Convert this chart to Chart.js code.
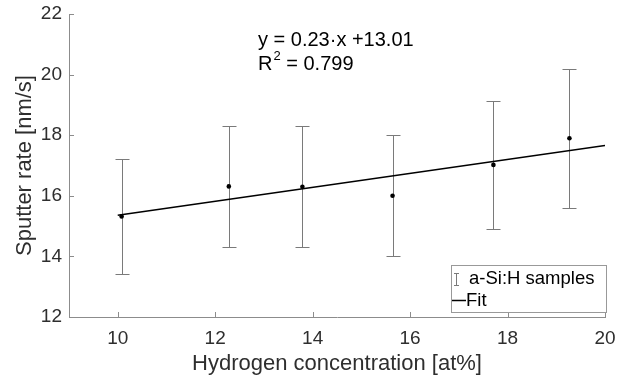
<!DOCTYPE html>
<html>
<head>
<meta charset="utf-8">
<script src="https://cdn.jsdelivr.net/npm/chart.js@4/dist/chart.umd.min.js"></script>
<style>
html,body{margin:0;padding:0;background:#fff}
#wrap{width:619px;height:378px}
</style>
</head>
<body>
<div id="wrap"><canvas id="c" width="619" height="378"></canvas></div>
<script>
const hydrogen=[10.08,12.28,13.79,15.64,17.71,19.27];
const sputterRate=[15.32,16.31,16.30,16.00,17.02,17.90];
const rateError=[1.90,2.00,2.00,2.00,2.10,2.30];
const fitX=[10,20];
const fitY=[15.36,17.66];
const xTicks=[10,12,14,16,18,20];
const yTicks=[12,14,16,18,20,22];
const eqLine='y = 0.23\u00b7x +13.01';
const r2Value=' = 0.799';

const FONT='"Liberation Sans", Arial, Helvetica, sans-serif';
const AXIS_GRAY='#8c8c8c';
const TEXT_DARK='#2e2e2e';

// MATLAB style ticks point into the plot
const innerTicks={
  id:'innerTicks',
  afterDraw(chart){
    const {ctx,chartArea,scales:{x,y}}=chart;
    ctx.save();
    ctx.strokeStyle=AXIS_GRAY;
    ctx.lineWidth=1;
    ctx.beginPath();
    xTicks.forEach(v=>{
      const px=Math.round(x.getPixelForValue(v))+0.5;
      ctx.moveTo(px,chartArea.bottom);
      ctx.lineTo(px,chartArea.bottom-5);
    });
    yTicks.forEach(v=>{
      const py=Math.round(y.getPixelForValue(v))+0.5;
      ctx.moveTo(chartArea.left,py);
      ctx.lineTo(chartArea.left+5,py);
    });
    ctx.stroke();
    ctx.restore();
  }
};

const errorBars={
  id:'errorBars',
  beforeDatasetsDraw(chart){
    const {ctx,scales:{x,y}}=chart;
    ctx.save();
    ctx.strokeStyle='#7a7a7a';
    ctx.lineWidth=1;
    ctx.beginPath();
    hydrogen.forEach((h,i)=>{
      const px=Math.round(x.getPixelForValue(h))+0.5;
      const top=Math.round(y.getPixelForValue(sputterRate[i]+rateError[i]))+0.5;
      const bot=Math.round(y.getPixelForValue(sputterRate[i]-rateError[i]))+0.5;
      ctx.moveTo(px,top);ctx.lineTo(px,bot);
      ctx.moveTo(px-7,top);ctx.lineTo(px+7,top);
      ctx.moveTo(px-7,bot);ctx.lineTo(px+7,bot);
    });
    ctx.stroke();
    ctx.restore();
  }
};

const annotations={
  id:'annotations',
  afterDraw(chart){
    const {ctx}=chart;
    ctx.save();
    ctx.fillStyle='#000';
    ctx.textBaseline='middle';
    ctx.textAlign='left';
    ctx.font='20px '+FONT;
    ctx.fillText(eqLine,258,40);
    ctx.fillText('R',258,64);
    let w=ctx.measureText('R').width;
    ctx.font='13px '+FONT;
    ctx.fillText('2',258+w+1,56);
    const w2=ctx.measureText('2').width;
    ctx.font='20px '+FONT;
    ctx.fillText(r2Value,258+w+w2+1,64);

    // legend box
    ctx.fillStyle='#fff';
    ctx.fillRect(451,265,155,47);
    ctx.strokeStyle='#999';
    ctx.lineWidth=1;
    ctx.strokeRect(451.5,265.5,155,47);
    ctx.strokeStyle='#7a7a7a';
    ctx.beginPath();
    ctx.moveTo(456.5,273);ctx.lineTo(456.5,286);
    ctx.moveTo(454,273.5);ctx.lineTo(459,273.5);
    ctx.moveTo(454,285.5);ctx.lineTo(459,285.5);
    ctx.stroke();
    ctx.strokeStyle='#000';
    ctx.lineWidth=1.5;
    ctx.beginPath();
    ctx.moveTo(452,300.5);ctx.lineTo(466,300.5);
    ctx.stroke();
    ctx.fillStyle='#000';
    ctx.font='18.5px '+FONT;
    ctx.fillText('a-Si:H samples',469,279);
    ctx.fillText('Fit',466,301);
    ctx.restore();
  }
};

new Chart(document.getElementById('c').getContext('2d'),{
  type:'scatter',
  data:{
    datasets:[
      {
        label:'a-Si:H samples',
        data:hydrogen.map((h,i)=>({x:h,y:sputterRate[i]})),
        backgroundColor:'#000',
        borderColor:'#000',
        pointRadius:2.3,
        pointBorderWidth:0,
        showLine:false,
        order:1
      },
      {
        label:'Fit',
        data:fitX.map((v,i)=>({x:v,y:fitY[i]})),
        borderColor:'#000',
        borderWidth:1.6,
        pointRadius:0,
        showLine:true,
        fill:false,
        order:2
      }
    ]
  },
  options:{
    responsive:false,
    animation:false,
    devicePixelRatio:1,
    layout:{padding:{top:14,right:14,left:0,bottom:0}},
    plugins:{legend:{display:false},tooltip:{enabled:false}},
    scales:{
      x:{
        type:'linear',
        min:9,max:20,
        afterBuildTicks(s){s.ticks=xTicks.map(v=>({value:v}));},
        afterFit(s){s.height=61;s.paddingLeft=0;s.paddingRight=0;},
        grid:{drawOnChartArea:false,drawTicks:false},
        border:{color:AXIS_GRAY,width:1},
        ticks:{color:TEXT_DARK,font:{family:FONT,size:19},padding:10,maxRotation:0},
        title:{display:true,text:'Hydrogen concentration [at%]',color:TEXT_DARK,font:{family:FONT,size:22},padding:{top:0,bottom:1}}
      },
      y:{
        type:'linear',
        min:12,max:22,
        afterBuildTicks(s){s.ticks=yTicks.map(v=>({value:v}));},
        afterFit(s){s.width=69;s.paddingTop=0;s.paddingBottom=0;},
        grid:{drawOnChartArea:false,drawTicks:false},
        border:{color:AXIS_GRAY,width:1},
        ticks:{color:TEXT_DARK,font:{family:FONT,size:19},padding:7},
        title:{display:true,text:'Sputter rate [nm/s]',color:TEXT_DARK,font:{family:FONT,size:22},padding:{top:12,bottom:0}}
      }
    }
  },
  plugins:[errorBars,innerTicks,annotations]
});
</script>
</body>
</html>
